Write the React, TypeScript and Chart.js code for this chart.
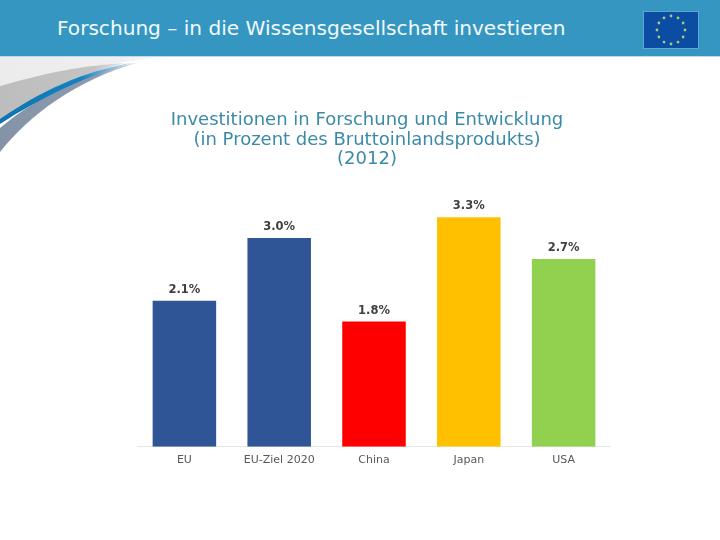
import React, { useEffect, useRef } from "react";
import { Chart, registerables } from "chart.js";

Chart.register(...registerables);

const categories = ["EU", "EU-Ziel 2020", "China", "Japan", "USA"];
const values = [2.1, 3.0, 1.8, 3.3, 2.7];
const valueLabels = ["2.1%", "3.0%", "1.8%", "3.3%", "2.7%"];
const barColors = ["#2f5597", "#2f5597", "#ff0000", "#ffc000", "#92d050"];
const titleLines = [
  "Investitionen in Forschung und Entwicklung",
  "(in Prozent des Bruttoinlandsprodukts)",
  "(2012)",
];
const headerText = "Forschung – in die Wissensgesellschaft investieren";
const FONT = "'DejaVu Sans', Verdana, sans-serif";

const valueLabelPlugin = {
  id: "valueLabels",
  afterDatasetsDraw(chart: any) {
    const { ctx } = chart;
    const meta = chart.getDatasetMeta(0);
    ctx.save();
    ctx.font = `bold 11.5px ${FONT}`;
    ctx.fillStyle = "#404040";
    ctx.textAlign = "center";
    ctx.textBaseline = "middle";
    meta.data.forEach((bar: any, i: number) => {
      ctx.fillText(valueLabels[i], bar.x, bar.y - 11);
    });
    ctx.restore();
  },
};

export default function App() {
  const ref = useRef<HTMLCanvasElement>(null);

  useEffect(() => {
    const chart = new Chart(ref.current as HTMLCanvasElement, {
      type: "bar",
      data: {
        labels: categories,
        datasets: [
          {
            data: values,
            backgroundColor: barColors,
            borderWidth: 0,
            categoryPercentage: 1,
            barPercentage: 0.67,
          },
        ],
      },
      options: {
        animation: false,
        responsive: false,
        layout: { padding: { left: 0, right: 0, top: 0, bottom: 74 } },
        plugins: {
          legend: { display: false },
          tooltip: { enabled: false },
          title: {
            display: true,
            text: titleLines,
            color: "#3a8aa8",
            font: { family: FONT, size: 18, weight: "normal", lineHeight: 1.08 },
            padding: { top: 111, bottom: 34 },
          },
        },
        scales: {
          x: {
            grid: { display: false },
            border: { color: "#e6e6e6", width: 1 },
            ticks: { color: "#595959", font: { family: FONT, size: 11 }, padding: -1, maxRotation: 0 },
          },
          y: {
            display: true,
            min: 0,
            max: 3.5,
            ticks: { display: false },
            grid: { display: false },
            border: { display: false },
            afterFit(scale: any) {
              scale.width = 14;
            },
          },
        },
      },
      plugins: [valueLabelPlugin],
    } as any);
    return () => chart.destroy();
  }, []);

  const stars = Array.from({ length: 12 }, (_, i) => i);

  return (
    <div style={{ position: "absolute", left: 0, top: 0, width: 720, height: 540, background: "#fff", overflow: "hidden" }}>
      <svg width={720} height={170} style={{ position: "absolute", left: 0, top: 0 }}>
        <defs>
          <linearGradient id="fadeGray" x1="0" x2="1" y1="0" y2="0">
            <stop offset="0" stopColor="#ececec" />
            <stop offset="0.7" stopColor="#efefef" />
            <stop offset="1" stopColor="#ffffff" />
          </linearGradient>
          <linearGradient id="fadeMid" x1="0" x2="1" y1="0" y2="0">
            <stop offset="0" stopColor="#bdbdbd" />
            <stop offset="0.75" stopColor="#c4c4c4" />
            <stop offset="1" stopColor="#e4e4e4" />
          </linearGradient>
          <linearGradient id="fadeBlue" x1="0" x2="1" y1="0" y2="0">
            <stop offset="0" stopColor="#0f74b0" />
            <stop offset="0.6" stopColor="#1482c0" />
            <stop offset="1" stopColor="#d4e8f4" />
          </linearGradient>
          <linearGradient id="fadeSlate" x1="0" x2="1" y1="0" y2="0">
            <stop offset="0" stopColor="#8493a6" />
            <stop offset="0.7" stopColor="#8c9bb0" />
            <stop offset="1" stopColor="#dfeaf3" />
          </linearGradient>
        </defs>
        <path d="M0 57 H172 C110 62 50 72 0 86 Z" fill="url(#fadeGray)" />
        <path d="M0 86 C50 72 80 66 125 63 C80 75 40 92 0 120 Z" fill="url(#fadeMid)" />
        <path d="M0 152 C30 115 75 80 140 62 C85 72 40 95 0 128 Z" fill="url(#fadeSlate)" />
        <path d="M0 119 C40 92 80 72 135 62 C90 74 40 98 0 124 Z" fill="url(#fadeBlue)" />
      </svg>
      <div style={{ position: "absolute", left: 0, top: 0, width: 720, height: 57, background: "#3597c1", borderBottom: "1px solid #bcdcea", boxSizing: "border-box" }}>
        <div style={{ position: "absolute", left: 57, top: 16, fontFamily: FONT, fontSize: 20.1, lineHeight: "24px", color: "#f2f9fc", whiteSpace: "nowrap" }}>
          {headerText}
        </div>
        <svg width={56} height={38} style={{ position: "absolute", left: 643, top: 11 }}>
          <rect x={0.5} y={0.5} width={55} height={37} fill="#0b4da2" stroke="#5fa6d3" />
          {stars.map((i) => (
            <circle
              key={i}
              cx={28 + 14 * Math.sin((i * Math.PI) / 6)}
              cy={19 - 14 * Math.cos((i * Math.PI) / 6)}
              r={1.4}
              fill="#a9c97a"
            />
          ))}
        </svg>
      </div>
      <canvas ref={ref} width={488} height={540} style={{ position: "absolute", left: 123, top: 0, display: "block" }} />
    </div>
  );
}
